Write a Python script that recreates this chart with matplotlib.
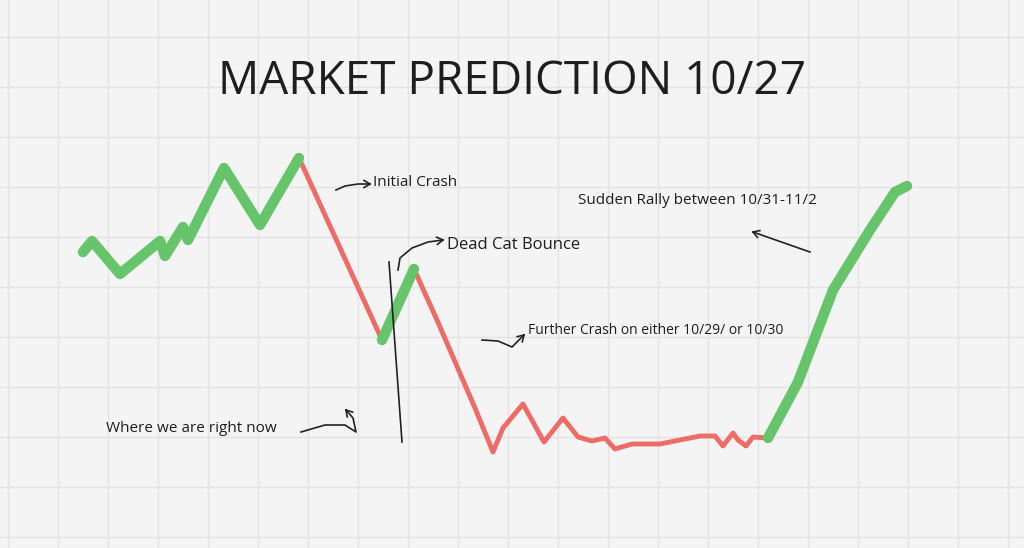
import matplotlib
matplotlib.use("Agg")
import matplotlib.pyplot as plt
import numpy as np

# path traced in picture coordinates (x right, y down)
green1_x = [83, 92, 120, 160, 165, 183, 188, 224, 260, 299]
green1_y = [252, 241, 274, 241, 256, 227, 240, 168, 225, 158]
red1_x = [299, 382]
red1_y = [158, 340]
green2_x = [382, 414]
green2_y = [340, 269]
red2_x = [414, 437, 475, 493, 503, 523, 544, 563, 578, 592, 605, 615, 632, 660, 700, 715, 723, 733, 738, 746, 753, 768]
red2_y = [269, 320, 408, 452, 428, 404, 442, 418, 437, 441, 438, 449, 444, 444, 436, 436, 446, 433, 440, 446, 437, 438]
green3_x = [768, 798, 833, 870, 895, 907]
green3_y = [438, 382, 290, 230, 192, 186]

notes = [
    (373, 183, "Initial Crash", 11),
    (447, 245, "Dead Cat Bounce", 12),
    (528, 331, "Further Crash on either 10/29/ or 10/30", 10),
    (578, 200, "Sudden Rally between 10/31-11/2", 11),
    (106, 429, "Where we are right now", 11),
]

# little hand-drawn arrows
arrows = [
    ([336, 345, 358, 370], [190, 186, 184, 184]),
    ([398, 400, 412, 428, 443], [270, 258, 248, 242, 240]),
    ([482, 498, 512, 524], [340, 341, 347, 335]),
    ([810, 790, 770, 753], [252, 245, 238, 232]),
    ([301, 325, 345, 356, 353, 346], [432, 425, 425, 432, 418, 410]),
]

fig = plt.figure(figsize=(10.24, 5.48), dpi=100)
ax = fig.add_axes([0, 0, 1, 1])
ax.set_xlim(0, 1024)
ax.set_ylim(548, 0)
ax.axis("off")
fig.patch.set_facecolor("#f4f4f4")

for gx in np.arange(8, 1024, 50):
    ax.axvline(gx, color="#e3e3e3", lw=1, zorder=0)
for gy in np.arange(37, 548, 50):
    ax.axhline(gy, color="#e3e3e3", lw=1, zorder=0)

green = "#66c46a"
red = "#ee6b66"
kw = dict(solid_capstyle="round", solid_joinstyle="round")
ax.plot(red1_x, red1_y, color=red, lw=3.5, **kw)
ax.plot(red2_x, red2_y, color=red, lw=3.5, **kw)
ax.plot(green1_x, green1_y, color=green, lw=7.5, **kw)
ax.plot(green2_x, green2_y, color=green, lw=7.5, **kw)
ax.plot(green3_x, green3_y, color=green, lw=7.5, **kw)

# "right now" marker line
ax.plot([389, 402], [262, 442], color="#222222", lw=1.2)

ax.text(512, 82, "MARKET PREDICTION 10/27", ha="center", va="center",
        fontsize=33, family="Open Sans", color="#1e1e1e")
for x, y, s, fs in notes:
    ax.text(x, y, s, ha="left", va="center", fontsize=fs,
            family="Open Sans", color="#1e1e1e")
for xs, ys in arrows:
    ax.plot(xs, ys, color="#222222", lw=1.2)
    dx, dy = xs[-1] - xs[-2], ys[-1] - ys[-2]
    a = np.arctan2(dy, dx)
    for da in (2.6, -2.6):
        ax.plot([xs[-1], xs[-1] + 7 * np.cos(a + da)],
                [ys[-1], ys[-1] + 7 * np.sin(a + da)], color="#222222", lw=1.2)

fig.savefig("out.png", dpi=100, facecolor=fig.get_facecolor())
